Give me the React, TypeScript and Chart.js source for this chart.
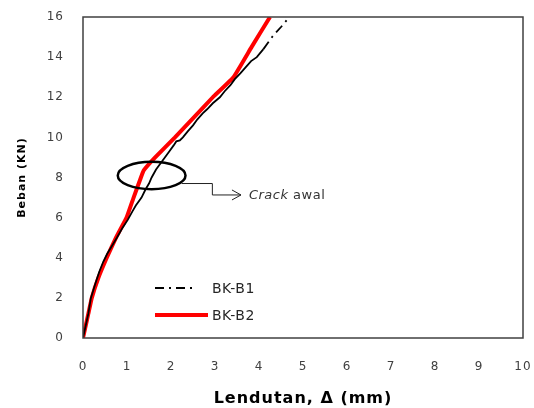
import React, { useEffect, useRef } from "react";
import { Chart, registerables } from "chart.js";

Chart.register(...registerables);

// BK-B1 (black, dash-dot)
const b1X = [0, 0.03, 0.06, 0.12, 0.18, 0.28, 0.37, 0.46, 0.55, 0.66, 0.77, 0.9, 1.02, 1.12, 1.2, 1.33, 1.42, 1.5, 1.56, 1.66, 1.76, 1.86, 1.96, 2.06, 2.12, 2.2, 2.27, 2.38, 2.5, 2.6, 2.72, 2.82, 2.95, 3.11, 3.22, 3.35, 3.45, 3.58, 3.7, 3.82, 3.95, 4.1, 4.2, 4.32, 4.5, 4.69];
const b1Y = [0, 0.3, 0.6, 1.2, 2, 2.7, 3.3, 3.8, 4.2, 4.6, 5, 5.5, 5.9, 6.3, 6.6, 7, 7.4, 7.7, 8, 8.4, 8.7, 9, 9.3, 9.6, 9.8, 9.85, 10, 10.3, 10.6, 10.9, 11.2, 11.4, 11.7, 12, 12.3, 12.6, 12.9, 13.2, 13.5, 13.8, 14, 14.4, 14.7, 15.07, 15.5, 16];
// BK-B2 (red)
const b2X = [0, 0.05, 0.12, 0.2, 0.35, 0.54, 0.75, 0.99, 1.15, 1.3, 1.38, 1.64, 2.09, 2.52, 2.95, 3.42, 3.83, 4.25];
const b2Y = [0, 0.5, 1.2, 2, 3, 4, 5, 6, 7, 7.9, 8.35, 9, 10, 11, 12, 13, 14.5, 16];

const seriesLabels = ["BK-B1", "BK-B2"];
const xTicks = [0, 1, 2, 3, 4, 5, 6, 7, 8, 9, 10];
const yTicks = [0, 2, 4, 6, 8, 10, 12, 14, 16];
const xTitle = "Lendutan, \u0394 (mm)";
const yTitle = "Beban (KN)";
const crackItalic = "Crack";
const crackNormal = " awal";

// annotation geometry, in data units
const ellipseCenter = { x: 1.56, y: 8.1 };
const ellipseRadius = { x: 0.77, y: 0.68 };
const connector = { x0: 2.24, y0: 7.7, xMid: 2.94, y1: 7.13, xEnd: 3.59, textX: 3.77 };

const FONT = "'DejaVu Sans', Verdana, sans-serif";
const TICK_COLOR = "#404040";

const spacingPlugin = {
  id: "spacing",
  beforeDraw(chart: any) {
    chart.ctx.letterSpacing = "1px";
  },
  afterDraw(chart: any) {
    chart.ctx.letterSpacing = "0px";
  },
};

const overlayPlugin = {
  id: "overlay",
  afterDraw(chart: any) {
    const { ctx, chartArea: a, scales } = chart;
    const xs = scales.x;
    const ys = scales.y;
    ctx.save();
    ctx.letterSpacing = "0px";
    // frame
    ctx.strokeStyle = "#404040";
    ctx.lineWidth = 1.5;
    ctx.strokeRect(a.left, a.top, a.right - a.left, a.bottom - a.top);

    // ellipse
    const cx = xs.getPixelForValue(ellipseCenter.x);
    const cy = ys.getPixelForValue(ellipseCenter.y);
    const rx = xs.getPixelForValue(ellipseCenter.x + ellipseRadius.x) - cx;
    const ry = cy - ys.getPixelForValue(ellipseCenter.y + ellipseRadius.y);
    ctx.strokeStyle = "#000";
    ctx.lineWidth = 2.5;
    ctx.beginPath();
    ctx.ellipse(cx, cy, rx, ry, 0, 0, Math.PI * 2);
    ctx.stroke();

    // connector
    const px0 = xs.getPixelForValue(connector.x0);
    const py0 = ys.getPixelForValue(connector.y0);
    const pxm = xs.getPixelForValue(connector.xMid);
    const py1 = ys.getPixelForValue(connector.y1);
    const pxe = xs.getPixelForValue(connector.xEnd);
    ctx.lineWidth = 1;
    ctx.strokeStyle = "#222";
    ctx.beginPath();
    ctx.moveTo(px0, py0);
    ctx.lineTo(pxm, py0);
    ctx.lineTo(pxm, py1);
    ctx.lineTo(pxe, py1);
    ctx.moveTo(pxe - 9, py1 - 5);
    ctx.lineTo(pxe, py1);
    ctx.lineTo(pxe - 9, py1 + 5);
    ctx.stroke();

    // text
    const tx = xs.getPixelForValue(connector.textX);
    ctx.fillStyle = "#333";
    ctx.textBaseline = "middle";
    ctx.textAlign = "left";
    ctx.letterSpacing = "0.5px";
    ctx.font = `italic 13px ${FONT}`;
    ctx.fillText(crackItalic, tx, py1 + 1);
    const w = ctx.measureText(crackItalic).width;
    ctx.font = `13px ${FONT}`;
    ctx.fillText(crackNormal, tx + w, py1 + 1);

    // legend
    const ds = chart.data.datasets;
    const lx0 = a.left + 72;
    const rows = [a.bottom - 50, a.bottom - 23];
    const lens = [42, 53];
    ds.forEach((d: any, i: number) => {
      const y = rows[i];
      ctx.strokeStyle = d.borderColor;
      ctx.lineWidth = d.borderWidth;
      ctx.setLineDash(d.borderDash || []);
      ctx.beginPath();
      ctx.moveTo(lx0, y);
      ctx.lineTo(lx0 + lens[i], y);
      ctx.stroke();
      ctx.setLineDash([]);
      ctx.fillStyle = "#262626";
      ctx.font = `14px ${FONT}`;
      ctx.textBaseline = "middle";
      ctx.fillText(d.label, a.left + 129, y + 1);
    });
    ctx.restore();
  },
};

export default function App() {
  const ref = useRef<HTMLCanvasElement>(null);
  useEffect(() => {
    document.body.style.margin = "0";
    const chart = new Chart(ref.current!, {
      type: "line",
      data: {
        datasets: [
          {
            label: seriesLabels[0],
            data: b1X.map((x, i) => ({ x, y: b1Y[i] })),
            borderColor: "#000000",
            borderWidth: 1.8,
            borderDash: [9, 5, 2, 5],
            pointRadius: 0,
            tension: 0,
            segment: {
              borderDash: (c: any) => (c.p0.parsed.y < 14.3 ? [] : undefined),
            },
          },
          {
            label: seriesLabels[1],
            data: b2X.map((x, i) => ({ x, y: b2Y[i] })),
            borderColor: "#ff0000",
            borderWidth: 4,
            pointRadius: 0,
            tension: 0.1,
          },
        ],
      },
      options: {
        animation: false,
        responsive: false,
        layout: { padding: { top: 17, right: 11, left: 0, bottom: 0 } },
        plugins: { legend: { display: false }, tooltip: { enabled: false } },
        scales: {
          x: {
            type: "linear",
            min: 0,
            max: 10,
            afterFit: (s: any) => { s.height = 70; s.paddingLeft = 0; s.paddingRight = 0; },
            afterBuildTicks: (s: any) => { s.ticks = xTicks.map((v) => ({ value: v })); },
            grid: { display: false, drawTicks: false },
            border: { display: false },
            ticks: { padding: 22, color: TICK_COLOR, font: { family: FONT, size: 12 } },
            title: {
              display: true,
              text: xTitle,
              color: "#000",
              font: { family: FONT, size: 16, weight: "bold" },
              padding: { top: 0, bottom: 0 },
            },
          },
          y: {
            type: "linear",
            min: 0,
            max: 16,
            afterFit: (s: any) => { s.width = 83; s.paddingTop = 0; s.paddingBottom = 0; },
            afterBuildTicks: (s: any) => { s.ticks = yTicks.map((v) => ({ value: v })); },
            grid: { display: false, drawTicks: false },
            border: { display: false },
            ticks: { padding: 19, color: TICK_COLOR, font: { family: FONT, size: 12 } },
            title: {
              display: true,
              text: yTitle,
              color: "#000",
              font: { family: FONT, size: 11, weight: "bold" },
              padding: { top: 16, bottom: 0 },
            },
          },
        },
      },
      plugins: [spacingPlugin, overlayPlugin],
    } as any);
    return () => chart.destroy();
  }, []);
  return (
    <div style={{ position: "absolute", left: 0, top: 0, width: 534, height: 408, background: "#fff" }}>
      <canvas ref={ref} width={534} height={408} style={{ width: 534, height: 408 }} />
    </div>
  );
}
